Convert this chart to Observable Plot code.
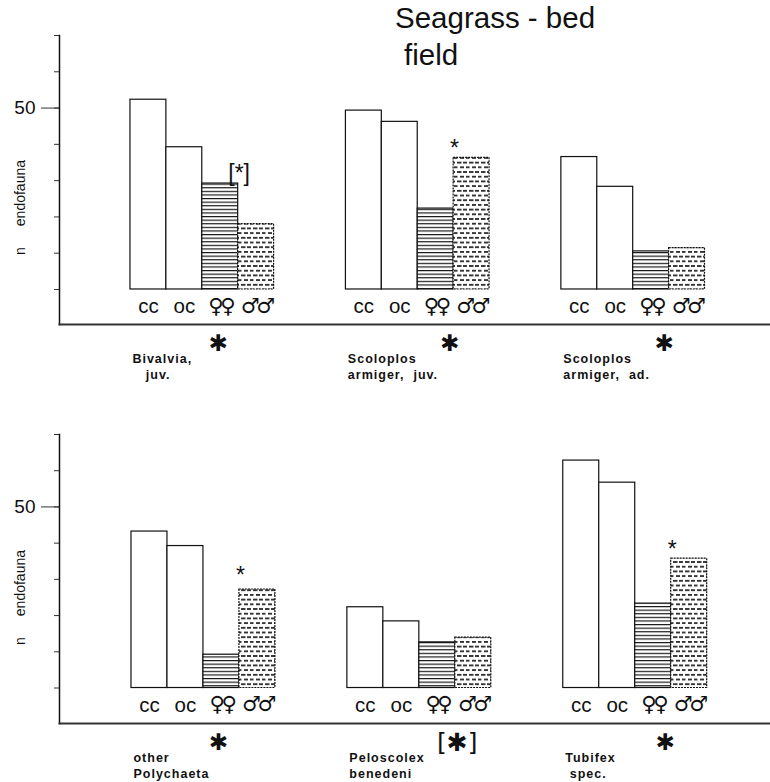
<!DOCTYPE html>
<html><head><meta charset="utf-8">
<script src="https://cdn.jsdelivr.net/npm/d3@7"></script>
<script src="https://cdn.jsdelivr.net/npm/@observablehq/plot@0.6"></script>
<style>
body{margin:0;background:#fff;}
#wrap{position:relative;width:770px;height:782px;overflow:hidden;}
#wrap svg{display:block;}
.title{position:absolute;font-family:"Liberation Sans",Arial,sans-serif;font-size:29.5px;line-height:28px;color:#111;white-space:pre;z-index:2;}
</style>
</head><body>
<div id="wrap">
  <div class="title" style="left:395px;top:4px">Seagrass - bed</div>
  <div class="title" style="left:404px;top:41px">field</div>
</div>
<script>
// ---- data ----
const categories = ["cc", "oc", "♀♀", "♂♂"];
const yTicks = [0, 10, 20, 30, 40, 50, 60, 70];
const yLabeledTicks = [50];
const yAxisTitle = "n\u2003\u2002endofauna";

const groupsTop = ["Bivalvia,\n   juv.", "Scoloplos\narmiger,  juv.", "Scoloplos\narmiger,  ad."];
const valuesTop = [
  [52.3, 39.2, 29.2, 18.0],
  [49.3, 46.2, 22.3, 36.3],
  [36.5, 28.3, 10.5, 11.4]
];
const barMarksTop = [{group: 0, text: "[*]", y: 31.9}, {group: 1, text: "*", y: 38.9}];
const groupMarksTop = ["✱", "✱", "✱"];

const groupsBottom = ["other\nPolychaeta", "Peloscolex\nbenedeni", "Tubifex\n spec."];
const valuesBottom = [
  [43.2, 39.2, 9.2, 27.2],
  [22.3, 18.4, 12.6, 13.9],
  [62.8, 56.7, 23.3, 35.7]
];
const barMarksBottom = [{group: 0, text: "*", y: 31.0}, {group: 2, text: "*", y: 38.3}];
const groupMarksBottom = ["✱", "[✱]", "✱"];

// ---- drawing ----
function panel(cfg) {
  const {pid, groups, values, barMarks, groupMarks, starShift, yMin, height, marginTop, marginBottom, align, paddingOuter, yTitleAt} = cfg;
  const rows = [];
  groups.forEach((g, gi) => categories.forEach((c, ci) => rows.push({key: `${gi}|${c}`, cat: c, value: values[gi][ci], group: gi})));
  const domain = [];
  groups.forEach((g, gi) => {
    if (gi > 0) domain.push(`gap${gi}a`, `gap${gi}b`);
    categories.forEach(c => domain.push(`${gi}|${c}`));
  });
  const isSex = c => c.includes("♀") || c.includes("♂");
  const gRows = groups.map((g, gi) => ({g, gi, mark: groupMarks[gi], size: groupMarks[gi].length > 1 ? 25 : 23}));
  const svg = Plot.plot({
    width: 770, height, marginLeft: 59, marginRight: 0, marginTop, marginBottom,
    x: {type: "band", domain, paddingInner: 0, paddingOuter, align, round: false, axis: null},
    y: {domain: [yMin, 70], label: null},
    color: {domain: categories, range: ["white", "white", `url(#hatch-${pid})`, `url(#dash-${pid})`]},
    style: {fontFamily: "'Liberation Sans', Arial, 'DejaVu Sans', sans-serif", color: "#111", background: "white", overflow: "visible"},
    marks: [
      Plot.barY(rows.filter(d => d.cat !== "♂♂"), {x: "key", y: "value", fill: "cat", stroke: "#111", strokeWidth: 1.2}),
      Plot.barY(rows.filter(d => d.cat === "♂♂"), {x: "key", y: "value", fill: "cat", stroke: "#111", strokeWidth: 1.2, strokeDasharray: "2,1"}),
      Plot.axisY(yTicks, {tickSize: 5, tickFormat: () => "", label: null, stroke: "#333"}),
      Plot.axisY(yLabeledTicks, {tickSize: 18, tickPadding: 6, fontSize: 19, label: null, stroke: "#333", tickFormat: d => String(d)}),
      Plot.frame({anchor: "left", stroke: "#111", strokeWidth: 1.5}),
      Plot.frame({anchor: "bottom", stroke: "#333", strokeWidth: 2}),
      Plot.text([yTitleAt], {y: d => d, frameAnchor: "left", textAnchor: "middle", lineAnchor: "middle", dx: -39, rotate: -90, text: () => yAxisTitle, fontSize: 14}),
      Plot.text(rows.filter(d => !isSex(d.cat)), {x: "key", y: -4.8, text: "cat", fontSize: 20.5}),
      Plot.text(rows.filter(d => isSex(d.cat)), {x: "key", y: -4.6, text: "cat", fontSize: 21, fontFamily: "DejaVu Sans"}),
      Plot.text(barMarks, {x: d => `${d.group}|♂♂`, y: "y", text: "text", dx: -17, fontSize: 23}),
      Plot.text(gRows, {x: d => `${d.gi}|cc`, frameAnchor: "bottom", lineAnchor: "middle", text: "g", dx: -16, dy: 41, textAnchor: "start", fontSize: 12.5, fontWeight: "bold", lineHeight: 1.3}),
      ...gRows.map((r, i) => Plot.text([r], {x: d => `${d.gi}|♀♀`, frameAnchor: "bottom", lineAnchor: "middle", text: "mark", fontSize: "size", dy: 19, dx: starShift[i], fontFamily: "DejaVu Sans"}))
    ]
  });
  const root = d3.select(svg);
  const firstLines = groups.map(g => g.split("\n")[0]);
  root.selectAll("text").each(function() {
    const tc = this.textContent;
    if (firstLines.some(f => tc.startsWith(f))) {
      this.style.letterSpacing = "1px";
      this.style.whiteSpace = "pre";
    } else if (isSex(tc) && tc.length === 2) {
      this.style.letterSpacing = "-3.5px";
    }
  });
  const defs = root.insert("defs", ":first-child");
  const h = defs.append("pattern").attr("id", `hatch-${pid}`).attr("patternUnits", "userSpaceOnUse").attr("width", 6).attr("height", 3.6);
  h.append("rect").attr("width", 6).attr("height", 3.6).attr("fill", "white");
  h.append("rect").attr("y", 0).attr("width", 6).attr("height", 1.15).attr("fill", "#111");
  const p = defs.append("pattern").attr("id", `dash-${pid}`).attr("patternUnits", "userSpaceOnUse").attr("width", 12).attr("height", 9.4);
  p.append("rect").attr("width", 12).attr("height", 9.4).attr("fill", "white");
  [[1, 2, 4.5], [7, 2, 4], [4, 6.7, 4], [10, 6.7, 2], [0, 6.7, 1.5]].forEach(([x, y, w]) =>
    p.append("rect").attr("x", x).attr("y", y).attr("width", w).attr("height", 1.6).attr("fill", "#111"));
  return svg;
}

const wrap = document.getElementById("wrap");
wrap.appendChild(panel({
  pid: "top", groups: groupsTop, values: valuesTop, barMarks: barMarksTop, groupMarks: groupMarksTop,
  starShift: [-2, 14, 13], yMin: -9.65, height: 390, marginTop: 35, marginBottom: 66,
  align: 0.52, paddingOuter: 1.9, yTitleAt: 22.6
}));
wrap.appendChild(panel({
  pid: "bot", groups: groupsBottom, values: valuesBottom, barMarks: barMarksBottom, groupMarks: groupMarksBottom,
  starShift: [-3, 20, 12], yMin: -9.8, height: 392, marginTop: 44, marginBottom: 59,
  align: 0.532, paddingOuter: 1.88, yTitleAt: 25
}));
</script>
</body></html>
